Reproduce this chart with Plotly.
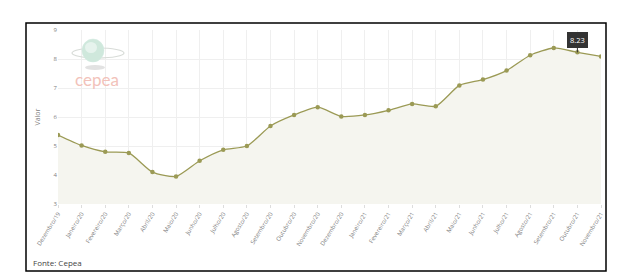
import plotly.graph_objects as go

categories = ["Dezembro/19", "Janeiro/20", "Fevereiro/20", "Março/20", "Abril/20", "Maio/20",
              "Junho/20", "Julho/20", "Agosto/20", "Setembro/20", "Outubro/20", "Novembro/20",
              "Dezembro/20", "Janeiro/21", "Fevereiro/21", "Março/21", "Abril/21", "Maio/21",
              "Junho/21", "Julho/21", "Agosto/21", "Setembro/21", "Outubro/21", "Novembro/21"]
values = [5.38, 5.02, 4.80, 4.76, 4.10, 3.95, 4.49, 4.87, 5.00, 5.69, 6.07, 6.34,
          6.02, 6.07, 6.23, 6.45, 6.37, 7.09, 7.29, 7.60, 8.13, 8.38, 8.23, 8.09]
y_ticks = [3, 4, 5, 6, 7, 8, 9]
highlight_index = 22

line_color = "#9b9a55"
font_family = "Open Sans, DejaVu Sans, sans-serif"

fig = go.Figure()
fig.add_trace(go.Scatter(
    x=list(range(len(categories))), y=values,
    mode="lines+markers",
    line=dict(color=line_color, width=1.3, shape="spline", smoothing=0.6),
    marker=dict(color=line_color, size=4.5),
    fill="tozeroy", fillcolor="#f5f5ef",
    hoverinfo="y",
))

fig.update_layout(
    width=634, height=280,
    margin=dict(l=58, r=33, t=30, b=76),
    paper_bgcolor="white", plot_bgcolor="white",
    showlegend=False,
    font=dict(family=font_family, size=6, color="#777777"),
    xaxis=dict(
        tickmode="array", tickvals=list(range(len(categories))), ticktext=categories,
        tickangle=-58, range=[0, len(categories) - 1],
        showgrid=True, gridcolor="#efefef", gridwidth=1,
        zeroline=False, showline=False,
        ticks="outside", ticklen=3, tickcolor="#dddddd",
        tickfont=dict(size=6, color="#808080"),
        automargin=False,
    ),
    yaxis=dict(
        tickmode="array", tickvals=y_ticks, range=[3, 9],
        showgrid=True, gridcolor="#efefef", gridwidth=1,
        zeroline=False, showline=False,
        tickfont=dict(size=6, color="#808080"),
        title=dict(text="Valor", font=dict(size=7, color="#808080"), standoff=12),
        automargin=False,
    ),
)

# outer border
fig.add_shape(type="rect", xref="paper", yref="paper",
              x0=-32 / 543, x1=1 + 5 / 543, y0=-67 / 174, y1=1 + 7 / 174,
              line=dict(color="black", width=1.5), fillcolor="rgba(0,0,0,0)", layer="above")

# Cepea logo (approximate)
def px(x):
    return (x - 58) / 543
def py(y):
    return (204 - y) / 174

fig.add_shape(type="circle", xref="paper", yref="paper",
              x0=px(72), x1=px(124), y0=py(58), y1=py(48),
              line=dict(color="#d8dcd8", width=1.2), fillcolor="rgba(0,0,0,0)")
fig.add_shape(type="circle", xref="paper", yref="paper",
              x0=px(82), x1=px(104), y0=py(62), y1=py(39),
              line=dict(color="#d5ebe2", width=0.5), fillcolor="#cfe8dc")
fig.add_shape(type="circle", xref="paper", yref="paper",
              x0=px(85), x1=px(97), y0=py(53), y1=py(42),
              line=dict(width=0), fillcolor="#e6f3ed")
fig.add_shape(type="circle", xref="paper", yref="paper",
              x0=px(85), x1=px(105), y0=py(70), y1=py(65),
              line=dict(width=0), fillcolor="#e2e2e2")
fig.add_annotation(xref="paper", yref="paper", x=px(97), y=py(79),
                   xanchor="center", yanchor="middle",
                   text="cepea", showarrow=False,
                   font=dict(family="Lato, DejaVu Sans, sans-serif", size=17, color="#f2c2ba"))

# tooltip
fig.add_annotation(x=highlight_index, y=values[highlight_index],
                   text=f"{values[highlight_index]:.2f}", showarrow=True,
                   arrowhead=0, arrowwidth=1, arrowcolor="#333333", ax=0, ay=-12,
                   bgcolor="#333333", bordercolor="#333333", borderpad=2,
                   font=dict(size=7.5, color="white", family=font_family))

fig.add_annotation(xref="paper", yref="paper", x=px(31), y=py(262), xanchor="left",
                   yanchor="middle",
                   text="Fonte: Cepea", showarrow=False,
                   font=dict(size=8, color="#444444", family=font_family))

fig.write_html("out.html")
